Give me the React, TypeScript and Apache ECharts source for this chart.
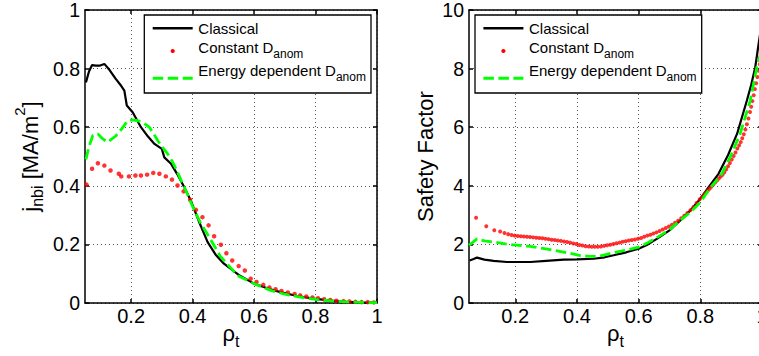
import React, { useEffect, useRef } from 'react';
import * as echarts from 'echarts';

const FONT = '"Liberation Sans", Arial, Helvetica, sans-serif';

// ---------- tick labels ----------
const X_TICKS = [0.2, 0.4, 0.6, 0.8, 1];
const LEFT_Y_MAX = 1;
const LEFT_Y_STEP = 0.2;
const RIGHT_Y_MAX = 10;
const RIGHT_Y_STEP = 2;
const X_MIN = 0.05;
const X_MAX = 1;

// ---------- series names ----------
const SERIES_NAMES = ['Classical', 'Constant D_anom', 'Energy dependent D_anom'];

// ---------- left panel: j_nbi [MA/m^2] vs rho_t ----------
const leftClassicalRho = [0.053, 0.063, 0.073, 0.085, 0.097, 0.113, 0.13, 0.15, 0.165, 0.178, 0.186, 0.205, 0.232, 0.255, 0.276, 0.3, 0.308, 0.33, 0.35, 0.373, 0.394, 0.42, 0.449, 0.475, 0.502, 0.55, 0.6, 0.65, 0.686, 0.74, 0.794, 0.85, 0.9, 0.95, 1.0];
const leftClassicalJ = [0.753, 0.79, 0.812, 0.81, 0.81, 0.816, 0.795, 0.765, 0.745, 0.725, 0.674, 0.651, 0.6, 0.568, 0.543, 0.526, 0.497, 0.475, 0.44, 0.395, 0.35, 0.28, 0.208, 0.165, 0.134, 0.096, 0.066, 0.048, 0.037, 0.024, 0.015, 0.008, 0.004, 0.002, 0.001];

const leftConstRho = [0.055, 0.073, 0.092, 0.113, 0.133, 0.16, 0.168, 0.193, 0.214, 0.232, 0.252, 0.272, 0.292, 0.313, 0.333, 0.351, 0.371, 0.392, 0.411, 0.432, 0.452, 0.47, 0.492, 0.51, 0.529, 0.55, 0.57, 0.589, 0.608, 0.63, 0.65, 0.67, 0.689, 0.71, 0.732, 0.75, 0.77, 0.79, 0.808, 0.828, 0.848, 0.868, 0.891, 0.91, 0.93, 0.95, 0.97, 0.99];
const leftConstJ = [0.404, 0.458, 0.477, 0.469, 0.452, 0.441, 0.432, 0.432, 0.435, 0.435, 0.438, 0.444, 0.441, 0.432, 0.421, 0.401, 0.381, 0.352, 0.318, 0.293, 0.265, 0.228, 0.199, 0.17, 0.145, 0.126, 0.111, 0.083, 0.072, 0.062, 0.053, 0.047, 0.041, 0.036, 0.031, 0.026, 0.022, 0.019, 0.016, 0.013, 0.01, 0.008, 0.006, 0.005, 0.004, 0.003, 0.003, 0.002];

const leftEnergyRho = [0.053, 0.062, 0.075, 0.092, 0.108, 0.124, 0.15, 0.17, 0.189, 0.205, 0.222, 0.24, 0.259, 0.272, 0.287, 0.303, 0.319, 0.333, 0.346, 0.362, 0.378, 0.4, 0.425, 0.454, 0.49, 0.546, 0.6, 0.654, 0.7, 0.75, 0.8, 0.85, 0.9, 0.95, 1.0];
const leftEnergyJ = [0.49, 0.53, 0.571, 0.577, 0.56, 0.549, 0.57, 0.595, 0.622, 0.625, 0.622, 0.615, 0.6, 0.58, 0.554, 0.53, 0.509, 0.485, 0.458, 0.42, 0.384, 0.33, 0.275, 0.225, 0.16, 0.094, 0.066, 0.043, 0.03, 0.02, 0.012, 0.007, 0.004, 0.002, 0.001];

// ---------- right panel: safety factor vs rho_t ----------
const rightClassicalRho = [0.052, 0.065, 0.076, 0.1, 0.13, 0.173, 0.2, 0.249, 0.3, 0.357, 0.4, 0.454, 0.49, 0.519, 0.56, 0.6, 0.63, 0.659, 0.7, 0.735, 0.77, 0.8, 0.83, 0.859, 0.89, 0.919, 0.951, 0.965, 0.978, 0.989, 1.0];
const rightClassicalQ = [1.45, 1.5, 1.55, 1.48, 1.44, 1.4, 1.4, 1.4, 1.44, 1.48, 1.49, 1.51, 1.56, 1.63, 1.73, 1.85, 2.0, 2.19, 2.48, 2.82, 3.18, 3.56, 4.0, 4.41, 5.05, 5.77, 6.91, 7.45, 8.04, 8.84, 9.6];

const rightConstRho = [0.073, 0.106, 0.132, 0.151, 0.165, 0.177, 0.188, 0.198, 0.208, 0.218, 0.228, 0.238, 0.248, 0.258, 0.268, 0.278, 0.288, 0.298, 0.308, 0.318, 0.328, 0.338, 0.348, 0.358, 0.368, 0.378, 0.388, 0.398, 0.408, 0.418, 0.428, 0.438, 0.448, 0.458, 0.468, 0.478, 0.488, 0.498, 0.508, 0.518, 0.528, 0.538, 0.548, 0.558, 0.568, 0.578, 0.588, 0.598, 0.608, 0.618, 0.628, 0.638, 0.648, 0.658, 0.668, 0.678, 0.688, 0.698, 0.708, 0.718, 0.728, 0.738, 0.748, 0.758, 0.768, 0.778, 0.788, 0.798, 0.806, 0.812, 0.818, 0.824, 0.83, 0.836, 0.842, 0.848, 0.854, 0.86, 0.866, 0.872, 0.878, 0.884, 0.89, 0.896, 0.902, 0.908, 0.914, 0.92, 0.926, 0.931, 0.936, 0.941, 0.946, 0.951, 0.956, 0.961, 0.965, 0.969, 0.973, 0.977, 0.981, 0.985, 0.989, 0.993, 0.997, 1.0];
const rightConstQ = [2.91, 2.62, 2.48, 2.44, 2.39, 2.35, 2.32, 2.3, 2.29, 2.28, 2.27, 2.26, 2.25, 2.24, 2.23, 2.22, 2.21, 2.19, 2.18, 2.16, 2.15, 2.13, 2.12, 2.1, 2.08, 2.06, 2.03, 2.01, 1.98, 1.96, 1.94, 1.93, 1.92, 1.92, 1.92, 1.93, 1.95, 1.97, 1.99, 2.01, 2.04, 2.06, 2.09, 2.11, 2.13, 2.15, 2.17, 2.19, 2.22, 2.26, 2.3, 2.33, 2.37, 2.41, 2.46, 2.51, 2.56, 2.61, 2.67, 2.74, 2.81, 2.89, 2.98, 3.07, 3.17, 3.28, 3.41, 3.54, 3.62, 3.69, 3.76, 3.83, 3.9, 3.97, 4.04, 4.11, 4.18, 4.25, 4.32, 4.38, 4.46, 4.56, 4.67, 4.78, 4.9, 5.02, 5.14, 5.27, 5.38, 5.49, 5.62, 5.76, 5.92, 6.1, 6.3, 6.52, 6.7, 6.89, 7.09, 7.3, 7.5, 7.71, 7.93, 8.15, 8.38, 8.55];

const rightEnergyRho = [0.05, 0.063, 0.076, 0.1, 0.13, 0.18, 0.249, 0.3, 0.357, 0.411, 0.44, 0.465, 0.49, 0.519, 0.56, 0.6, 0.63, 0.659, 0.7, 0.735, 0.77, 0.8, 0.83, 0.87, 0.9, 0.929, 0.962, 0.983, 1.0];
const rightEnergyQ = [1.97, 2.08, 2.19, 2.12, 2.08, 2.0, 1.93, 1.85, 1.74, 1.62, 1.59, 1.59, 1.64, 1.72, 1.8, 1.91, 2.06, 2.23, 2.5, 2.82, 3.12, 3.44, 3.9, 4.41, 5.05, 5.77, 6.91, 8.04, 8.7];

const zip = (xs: number[], ys: number[]) => xs.map((x, i) => [x, ys[i]]);

const AXIS_LINE = { color: '#000', width: 1.5 };
const SPLIT_LINE = { color: '#555', width: 1, type: [1, 3] as any };

function mainXAxis(gridIndex: number) {
  return {
    gridIndex,
    type: 'value',
    position: 'bottom',
    min: X_MIN,
    max: X_MAX,
    axisLine: { show: true, onZero: false, lineStyle: AXIS_LINE },
    axisTick: { show: true, inside: true, length: 4, customValues: X_TICKS, lineStyle: AXIS_LINE },
    axisLabel: {
      show: true,
      customValues: X_TICKS,
      fontSize: 20,
      fontFamily: FONT,
      color: '#000',
      margin: 3,
      formatter: (v: number) => String(+v.toFixed(2)),
    },
    splitLine: { show: true, lineStyle: SPLIT_LINE },
    name: '{a|ρ}{s|t}',
    nameLocation: 'middle',
    nameGap: 14,
    nameMoveOverlap: false,
    nameTextStyle: {
      color: '#000',
      fontFamily: FONT,
      fontSize: 22,
      rich: {
        a: { fontSize: 22, fontFamily: FONT, color: '#000' },
        s: { fontSize: 16, fontFamily: FONT, color: '#000', padding: [16, 0, 0, 0] },
      },
    },
  };
}

function topXAxis(gridIndex: number) {
  return {
    gridIndex,
    type: 'value',
    position: 'top',
    min: X_MIN,
    max: X_MAX,
    axisLine: { show: true, onZero: false, lineStyle: AXIS_LINE },
    axisTick: { show: true, inside: true, length: 4, customValues: X_TICKS, lineStyle: AXIS_LINE },
    axisLabel: { show: false },
    splitLine: { show: false },
  };
}

function mainYAxis(gridIndex: number, max: number, step: number, name: string, nameGap: number, rich: any) {
  return {
    gridIndex,
    type: 'value',
    position: 'left',
    min: 0,
    max,
    interval: step,
    axisLine: { show: true, onZero: false, lineStyle: AXIS_LINE },
    axisTick: { show: true, inside: true, length: 4, lineStyle: AXIS_LINE },
    axisLabel: { show: true, fontSize: 19.5, lineHeight: 16, fontFamily: FONT, color: '#000', margin: 5 },
    splitLine: { show: true, lineStyle: SPLIT_LINE },
    name,
    nameLocation: 'middle',
    nameRotate: 90,
    nameGap,
    nameMoveOverlap: false,
    nameTextStyle: { color: '#000', fontFamily: FONT, fontSize: 22, rich },
  };
}

function rightYAxis(gridIndex: number, max: number, step: number) {
  return {
    gridIndex,
    type: 'value',
    position: 'right',
    min: 0,
    max,
    interval: step,
    axisLine: { show: true, onZero: false, lineStyle: AXIS_LINE },
    axisTick: { show: true, inside: true, length: 4, lineStyle: AXIS_LINE },
    axisLabel: { show: false },
    splitLine: { show: false },
  };
}

function legendGraphics(boxX: number) {
  const z = 100;
  const textX = boxX + 54;
  const lineX1 = boxX + 8.4;
  const lineX2 = lineX1 + 40;
  const rich = {
    a: { fontSize: 15, fontFamily: FONT, fill: '#000' },
    s: { fontSize: 12, fontFamily: FONT, fill: '#000', padding: [12, 0, 0, 0] },
  };
  return [
    {
      type: 'rect', z, silent: true,
      shape: { x: boxX, y: 15, width: 226.7, height: 78 },
      style: { fill: '#fff', stroke: '#000', lineWidth: 1.3 },
    },
    {
      type: 'line', z: z + 1, silent: true,
      shape: { x1: lineX1, y1: 28.3, x2: lineX2, y2: 28.3 },
      style: { stroke: '#000', lineWidth: 2.4 },
    },
    {
      type: 'text', z: z + 1, silent: true, x: textX, y: 28.5,
      style: { text: SERIES_NAMES[0], fontSize: 15, fontFamily: FONT, fill: '#000', verticalAlign: 'middle', align: 'left' },
    },
    {
      type: 'circle', z: z + 1, silent: true,
      shape: { cx: lineX1 + 20, cy: 51, r: 2.1 },
      style: { fill: '#ff0000' },
    },
    {
      type: 'text', z: z + 1, silent: true, x: textX, y: 47.8,
      style: { text: '{a|Constant D}{s|anom}', rich, fill: '#000', verticalAlign: 'middle', align: 'left' },
    },
    {
      type: 'line', z: z + 1, silent: true,
      shape: { x1: lineX1, y1: 78.3, x2: lineX2, y2: 78.3 },
      style: { stroke: '#00ff00', lineWidth: 3, lineDash: [10.5, 4.5] },
    },
    {
      type: 'text', z: z + 1, silent: true, x: textX, y: 70.8,
      style: { text: '{a|Energy dependent D}{s|anom}', rich, fill: '#000', verticalAlign: 'middle', align: 'left' },
    },
  ];
}

export default function App() {
  const ref = useRef<HTMLDivElement>(null);

  useEffect(() => {
    document.body.style.margin = '0';
    if (!ref.current) return;
    const chart = echarts.init(ref.current, null, { renderer: 'svg' });

    const option: any = {
      animation: false,
      backgroundColor: '#fff',
      grid: [
        { left: 85, top: 10, width: 292, height: 293, show: false, outerBoundsMode: 'none', containLabel: false },
        { left: 469, top: 10, width: 293, height: 293, show: false, outerBoundsMode: 'none', containLabel: false },
      ],
      xAxis: [mainXAxis(0), mainXAxis(1), topXAxis(0), topXAxis(1)],
      yAxis: [
        mainYAxis(0, LEFT_Y_MAX, LEFT_Y_STEP, '{a|j}{s|nbi}{a| [MA/m}{p|2}{a|]}', 36, {
          a: { fontSize: 22, fontFamily: FONT, color: '#000' },
          s: { fontSize: 16, fontFamily: FONT, color: '#000', padding: [14, 0, 0, 0] },
          p: { fontSize: 15, fontFamily: FONT, color: '#000', padding: [0, 0, 22, 0] },
        }),
        mainYAxis(1, RIGHT_Y_MAX, RIGHT_Y_STEP, 'Safety Factor', 33, undefined),
        rightYAxis(0, LEFT_Y_MAX, LEFT_Y_STEP),
        rightYAxis(1, RIGHT_Y_MAX, RIGHT_Y_STEP),
      ],
      series: [
        {
          name: SERIES_NAMES[0], type: 'line', xAxisIndex: 0, yAxisIndex: 0,
          data: zip(leftClassicalRho, leftClassicalJ), showSymbol: false, symbol: 'none',
          lineStyle: { color: '#000', width: 2.2 }, itemStyle: { color: '#000' }, z: 2,
        },
        {
          name: SERIES_NAMES[1], type: 'scatter', xAxisIndex: 0, yAxisIndex: 0,
          data: zip(leftConstRho, leftConstJ), symbol: 'circle', symbolSize: 4.5,
          itemStyle: { color: '#ff0000' }, z: 3,
        },
        {
          name: SERIES_NAMES[2], type: 'line', xAxisIndex: 0, yAxisIndex: 0,
          data: zip(leftEnergyRho, leftEnergyJ), showSymbol: false, symbol: 'none',
          lineStyle: { color: '#00ff00', width: 2.8, type: [10.5, 4.5] }, itemStyle: { color: '#00ff00' }, z: 4,
        },
        {
          name: SERIES_NAMES[0], type: 'line', xAxisIndex: 1, yAxisIndex: 1,
          data: zip(rightClassicalRho, rightClassicalQ), showSymbol: false, symbol: 'none',
          lineStyle: { color: '#000', width: 2.2 }, itemStyle: { color: '#000' }, z: 2,
        },
        {
          name: SERIES_NAMES[1], type: 'scatter', xAxisIndex: 1, yAxisIndex: 1,
          data: zip(rightConstRho, rightConstQ), symbol: 'circle', symbolSize: 4,
          itemStyle: { color: '#ff0000' }, z: 3,
        },
        {
          name: SERIES_NAMES[2], type: 'line', xAxisIndex: 1, yAxisIndex: 1,
          data: zip(rightEnergyRho, rightEnergyQ), showSymbol: false, symbol: 'none',
          lineStyle: { color: '#00ff00', width: 2.8, type: [10.5, 4.5] }, itemStyle: { color: '#00ff00' }, z: 4,
        },
      ],
      graphic: [...legendGraphics(144.3), ...legendGraphics(475)],
    };

    chart.setOption(option);
    return () => {
      chart.dispose();
    };
  }, []);

  return <div ref={ref} style={{ width: 759, height: 356 }} />;
}
